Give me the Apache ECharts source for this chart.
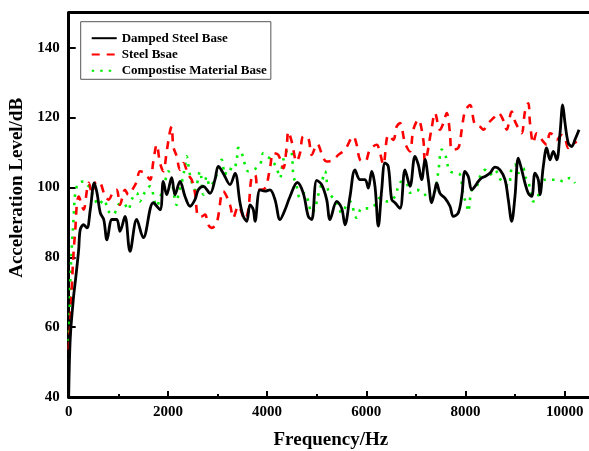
<!DOCTYPE html>
<html>
<head>
<meta charset="utf-8">
<script src="https://cdn.jsdelivr.net/npm/echarts@6/dist/echarts.min.js"></script>
<style>
html,body{margin:0;padding:0;background:#fff;overflow:hidden;}
#chart{width:589px;height:451px;}
</style>
</head>
<body>
<div id="chart"></div>
<script>
// ---- data ----
const seriesNames = ['Damped Steel Base', 'Steel Bsae', 'Compostise Material Base'];

const dampedFreq = [0,32,100,133,200,234,302,369,435,516,571,637,706,772,873,968,1034,1135,1236,1371,1504,1706,1841,1907,1976,2076,2143,2244,2345,2445,2546,2613,2714,2849,2949,3016,3117,3252,3353,3454,3520,3589,3655,3722,3756,3857,3958,4058,4159,4260,4361,4462,4609,4730,4830,4899,5000,5100,5201,5268,5403,5504,5570,5671,5772,5873,5974,6040,6108,6175,6242,6310,6377,6443,6512,6578,6679,6780,6881,6981,7048,7116,7183,7250,7318,7384,7418,7485,7586,7687,7754,7854,7923,7989,8056,8124,8190,8258,8326,8392,8493,8594,8695,8796,8862,8931,8997,9064,9133,9199,9266,9334,9400,9467,9501,9568,9636,9703,9770,9838,9905,9959,10006,10072,10141,10208,10288];
const dampedLevel = [40,57,69,73,82,88,89.3,88.4,93.6,101.3,98.4,92.7,90.8,85,90.8,90.8,87.4,91.7,81.7,90.8,85.6,95.6,93.6,101.7,97.9,102.8,97.9,101.7,97.4,94.6,96.5,99.3,100.3,98.3,102.2,106,104,100.8,104,95.6,91.7,90.3,95,93.6,90.3,99.3,98.9,99.3,96.5,90.8,93.6,97.4,101.4,98.3,91.7,90.8,102,100.8,96.5,90.8,96,94,89.3,97.4,105,102.2,102.2,99.8,104.6,100.3,88.9,99.3,107,106,96.5,95.6,94,105,100.3,108.9,106.5,102.2,108,102.2,95.6,99.3,101.2,98.3,96.9,94.6,91.7,92.7,97.4,104.6,103.1,99.3,100.3,101.7,102.7,103.1,104.1,105.8,105,102.2,96.5,90.3,97.4,108.4,105,101.2,98.3,97.4,104.1,102.2,97.9,106,111.3,107.9,110.3,107.9,115.5,123.6,118.4,112.7,111.7,113.7,116.5];

const steelFreq = [0,32,67,101,133,167,202,268,302,369,403,470,536,605,738,806,899,968,1034,1135,1202,1302,1371,1437,1538,1639,1706,1774,1841,1907,1976,2042,2076,2109,2177,2244,2310,2411,2480,2546,2613,2681,2748,2815,2883,2984,3117,3252,3318,3419,3555,3621,3689,3756,3822,3958,4058,4125,4226,4326,4395,4428,4496,4596,4663,4730,4830,4899,5010,5133,5201,5334,5435,5570,5738,5806,5873,5974,6074,6209,6276,6343,6443,6544,6612,6679,6780,6881,6947,7048,7149,7183,7318,7384,7485,7553,7621,7687,7721,7854,7923,7989,8090,8190,8291,8358,8459,8560,8661,8762,8830,8931,8997,9064,9133,9199,9266,9300,9367,9435,9568,9636,9703,9770,9838,9939,10006,10072,10141,10242];
const steelLevel = [53.6,61.3,72.8,82,87.9,95.5,97.4,94.6,93.6,99.3,101.3,98.4,101.3,101.7,97.4,96.5,98.9,99.3,95,99.3,97.9,99.8,101.7,104.6,104.1,102.2,107.4,112.2,107,104.6,110.3,116,117.4,111.7,108.9,105,107,103.6,102.2,98.4,91.7,91.7,92.2,89.3,88.4,89.8,98.9,95,91.3,94.6,90.8,93.6,103.1,103.6,99.3,99.8,105.5,109.8,109.3,105.5,111.7,116,113.1,107.4,109.8,114.6,114.1,109.3,112.4,108.4,107.4,107.9,109.3,110.8,114.6,112.2,107.9,107.4,110.8,112.2,109.8,106.5,115,113.6,117.4,118.4,112.7,110.3,116.5,119.4,113.6,107.4,117,121.3,116.5,118.4,121.3,115.5,110.8,111.3,116.5,121.7,123.6,117.9,117.4,116.5,118.4,119.8,121.3,119.2,116.5,121.7,118.9,117,115.5,121.7,124.1,118.4,112.7,115.5,113.1,112.2,115.5,115,113.6,115,114.1,111.3,112.2,113.1];

const compositeFreq = [0,20,32,67,101,133,202,302,403,504,605,706,806,899,1000,1101,1202,1269,1371,1437,1504,1639,1774,1841,1941,2009,2076,2177,2210,2278,2345,2378,2445,2546,2647,2714,2782,2849,2984,3084,3151,3218,3318,3387,3419,3488,3555,3621,3722,3857,3924,3992,4092,4193,4260,4326,4428,4496,4528,4596,4663,4764,4830,4899,4966,5032,5100,5167,5234,5302,5403,5504,5604,5671,5806,5907,6040,6175,6276,6411,6578,6645,6713,6814,6881,7016,7149,7284,7384,7452,7520,7586,7621,7687,7788,7889,7956,8024,8056,8124,8225,8291,8392,8493,8594,8661,8729,8862,8931,8997,9064,9165,9199,9266,9367,9435,9501,9602,9737,9870,9971,10106,10208];
const compositeLevel = [56,65,73,84,91.7,98.4,101.3,101.7,100.3,97.4,95,96.5,93.1,92.2,95,95.5,93.6,96.5,98.4,96,97.9,100.3,94.6,97,101.7,104.6,101.7,95,97.9,101.3,106,108.9,103.6,99.3,104.6,97.9,103.1,100.3,103.6,107.9,103.6,105.5,105,107.9,111.3,109.8,106.5,104.6,105,106.5,109.8,108.9,107.9,105.5,102.7,107.9,110.8,109.8,103.6,100.3,97,98.4,96,92.7,94,97.9,101.2,104.6,98.9,97.4,95.6,92.7,95,96,91.3,94,94,95,97,96,97.4,100.3,101.7,101.2,98.5,99.3,98.4,96.5,98.9,104.6,110.8,109.8,107.4,104.6,104.1,103.6,97.9,95,93.1,99.3,100.3,103.1,105,103.6,105,103.6,101.7,100.5,105.5,106.5,104.1,105.5,103.1,101.7,96,96.5,99.3,102.2,102.2,102.2,101.7,102.7,101.2];

const xTicks = [0, 2000, 4000, 6000, 8000, 10000];
const yTicks = [40, 60, 80, 100, 120, 140];

function pairs(fs, vs) { return fs.map((f, i) => [f, vs[i]]); }

const FONT = '"Liberation Serif", "Times New Roman", serif';
const chart = echarts.init(document.getElementById('chart'), null, {renderer: 'canvas'});

chart.setOption({
  animation: false,
  backgroundColor: '#fff',
  grid: {left: 68.7, right: -4, top: 12.7, bottom: 54, containLabel: false, outerBoundsMode: 'none', show: false},
  legend: {
    orient: 'vertical',
    left: 80.7, top: 21.7,
    padding: [10, 4, 2, 10],
    itemWidth: 25, itemHeight: 14, itemGap: 3.3,
    borderColor: '#555', borderWidth: 1,
    itemStyle: {opacity: 0},
    textStyle: {fontFamily: FONT, fontWeight: 'bold', fontSize: 13, color: '#000'},
    data: seriesNames
  },
  xAxis: [{
    type: 'value', min: 0, max: 10570, interval: 2000,
    axisLine: {show: true, onZero: false, lineStyle: {color: '#000', width: 3}},
    axisTick: {show: true, inside: true, length: 6, lineStyle: {color: '#000', width: 2}},
    minorTick: {show: true, splitNumber: 2, length: 3, lineStyle: {color: '#000', width: 2}},
    splitLine: {show: false},
    axisLabel: {
      margin: 8, fontFamily: FONT, fontWeight: 'bold', fontSize: 15, color: '#000',
      formatter: v => xTicks.includes(v) ? String(v) : ''
    },
    name: 'Frequency/Hz', nameLocation: 'middle', nameGap: 34,
    nameTextStyle: {fontFamily: FONT, fontWeight: 'bold', fontSize: 19, color: '#000'}
  }, {
    type: 'value', position: 'top', min: 0, max: 10570,
    axisLine: {show: true, onZero: false, lineStyle: {color: '#000', width: 3}},
    axisTick: {show: false}, axisLabel: {show: false}, splitLine: {show: false}
  }],
  yAxis: {
    type: 'value', min: 40, max: 150, interval: 20,
    axisLine: {show: true, onZero: false, lineStyle: {color: '#000', width: 3}},
    axisTick: {show: true, inside: true, length: 7, lineStyle: {color: '#000', width: 2}},
    splitLine: {show: false},
    axisLabel: {
      margin: 9, fontFamily: FONT, fontWeight: 'bold', fontSize: 15, color: '#000',
      formatter: v => yTicks.includes(v) ? String(v) : ''
    },
    name: 'Acceleration Level/dB', nameLocation: 'middle', nameGap: 42,
    nameTextStyle: {fontFamily: FONT, fontWeight: 'bold', fontSize: 19, color: '#000', padding: [0, 0, 0, 34]}
  },
  series: [{
    name: seriesNames[0], type: 'line', xAxisIndex: 0,
    data: pairs(dampedFreq, dampedLevel),
    showSymbol: false, symbol: 'none', smooth: 0.35,
    lineStyle: {color: '#000', width: 2.8, type: 'solid'},
    itemStyle: {color: '#000'}, z: 4
  }, {
    name: seriesNames[1], type: 'line', xAxisIndex: 0,
    data: pairs(steelFreq, steelLevel),
    showSymbol: false, symbol: 'none', smooth: 0.35,
    lineStyle: {color: '#ff0000', width: 2.6, type: [8, 7]},
    itemStyle: {color: '#ff0000'}, z: 3
  }, {
    name: seriesNames[2], type: 'line', xAxisIndex: 0,
    data: pairs(compositeFreq, compositeLevel),
    showSymbol: false, symbol: 'none', smooth: 0.35,
    lineStyle: {color: '#00ee00', width: 2.6, type: [2.5, 6]},
    itemStyle: {color: '#00ee00'}, z: 2
  }]
});
</script>
</body>
</html>
